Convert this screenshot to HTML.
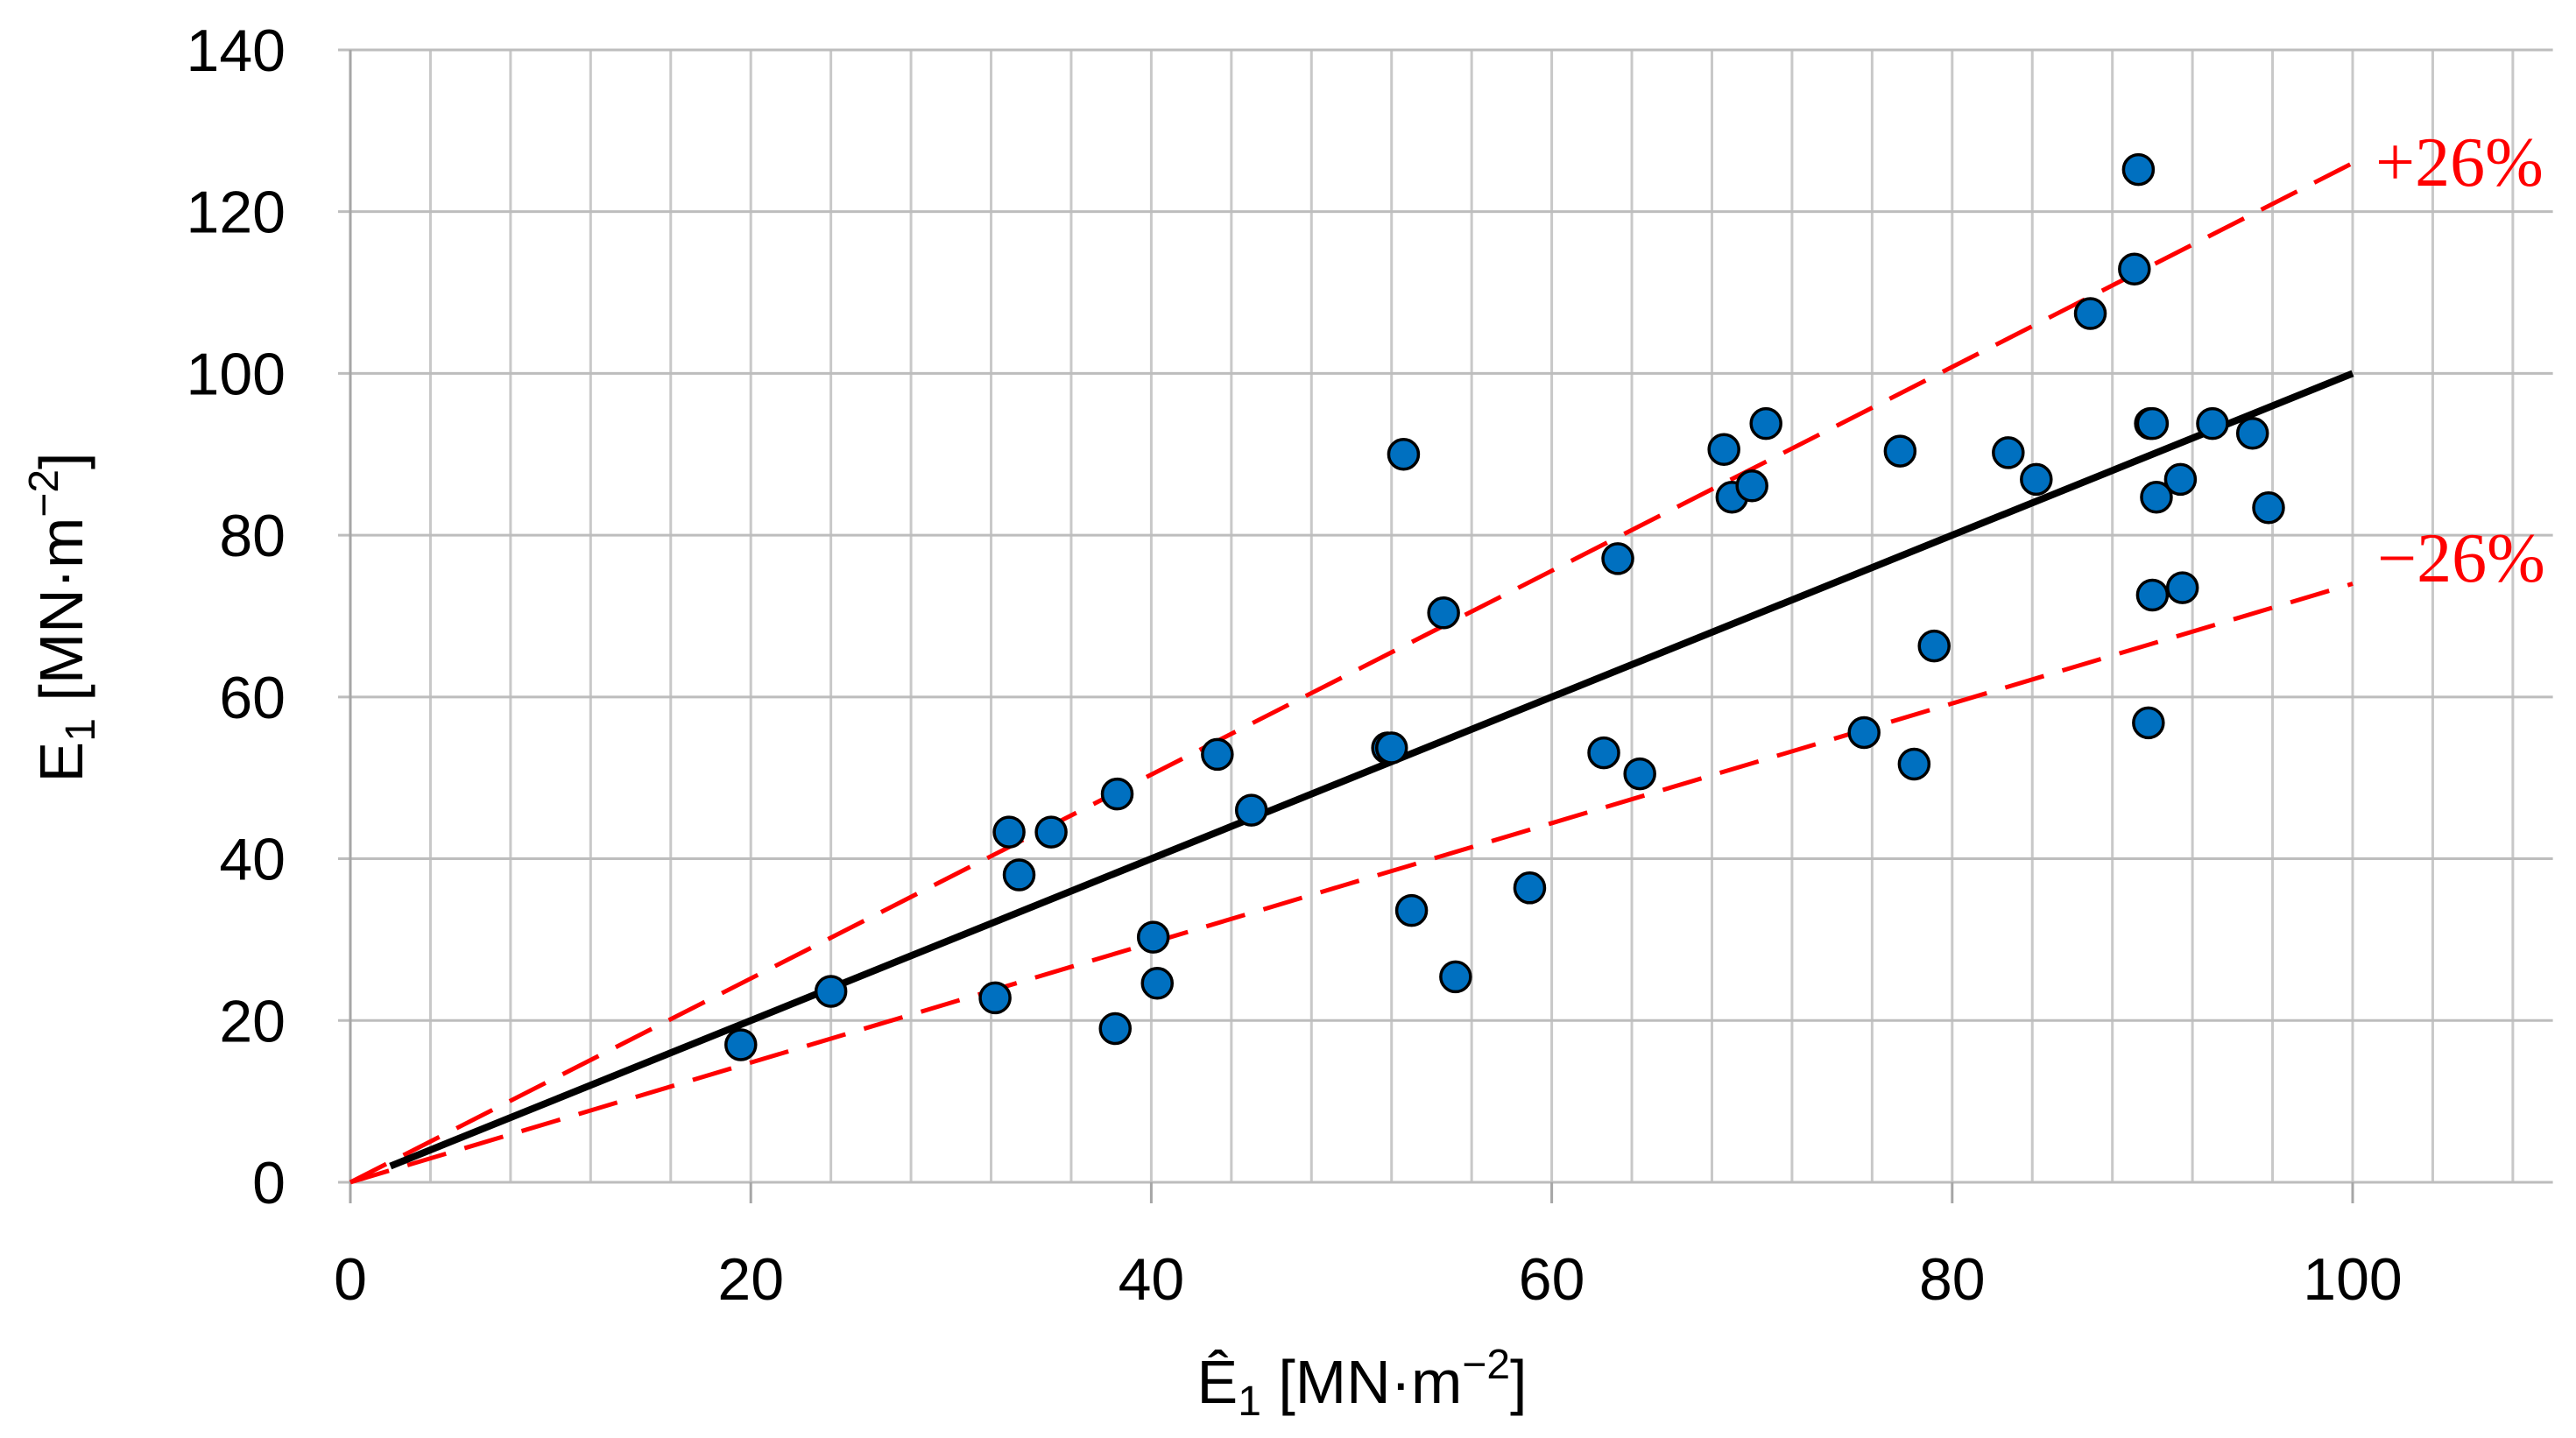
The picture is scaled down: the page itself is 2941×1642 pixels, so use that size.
<!DOCTYPE html>
<html><head><meta charset="utf-8"><style>
html,body{margin:0;padding:0;background:#fff}
svg{display:block}
text{font-family:"Liberation Sans","DejaVu Sans",sans-serif}
text.serif{font-family:"Liberation Serif","DejaVu Serif",serif}
</style></head><body>
<svg id="chart" width="2941" height="1642" viewBox="0 0 2941 1642" xmlns="http://www.w3.org/2000/svg">
<g id="grid"></g>
<g id="axes"></g>
<g id="lines"></g>
<g id="points"></g>
<g id="labels"></g>
</svg>
<script>
const xTicks = [0, 20, 40, 60, 80, 100];
const yTicks = [0, 20, 40, 60, 80, 100, 120, 140];
const xVals = [19.5,24,32.2,32.9,33.4,35,38.2,38.3,40.1,40.3,43.3,45,51.8,52,52.6,53,54.6,55.2,58.9,62.6,63.3,64.4,68.6,69,70,70.7,75.6,77.4,78.1,79.1,82.8,84.2,86.9,89.1,89.3,89.8,89.9,90,90,90.2,91.4,91.5,93,95,95.8];
const yVals = [17,23.6,22.8,43.3,38,43.3,19,48,30.3,24.6,52.9,46,53.7,53.7,90,33.6,70.4,25.4,36.4,53.1,77.1,50.5,90.6,84.7,86.1,93.8,55.6,90.4,51.7,66.3,90.2,86.9,107.4,112.9,125.2,56.8,93.8,93.8,72.6,84.7,86.9,73.5,93.8,92.6,83.4];
const upperFactor = [1.26];
const lowerFactor = [0.74];

const NS = "http://www.w3.org/2000/svg";
const X0 = 400, XU = 22.86, Y0 = 1350, YU = 9.236, XMAX = 110, YMAX = 140;
function sx(v){ return X0 + v * XU; }
function sy(v){ return Y0 - v * YU; }
function mk(tag, attrs, parent){
  const e = document.createElementNS(NS, tag);
  for (const k in attrs) e.setAttribute(k, attrs[k]);
  parent.appendChild(e);
  return e;
}
const grid = document.getElementById('grid');
const axes = document.getElementById('axes');
const lines = document.getElementById('lines');
const pts = document.getElementById('points');
const labels = document.getElementById('labels');

for (let v = 4; v <= XMAX; v += 4) {
  const l = mk('line', {x1: sx(v), x2: sx(v), y1: sy(YMAX), y2: sy(0), stroke: '#c8c8c8', 'stroke-width': 3}, grid);
  
  
}
yTicks.forEach(v => {
  const l = mk('line', {x1: sx(0) - 14, x2: sx(XMAX), y1: sy(v), y2: sy(v), stroke: '#bdbdbd', 'stroke-width': 3}, grid);
  
  
  const t = mk('text', {x: 326, y: sy(v) + 24, 'text-anchor': 'end', 'font-size': 68, fill: '#000'}, labels);
  t.textContent = v;
  
  
});
const ya = mk('line', {x1: sx(0), x2: sx(0), y1: sy(YMAX), y2: sy(0) + 2, stroke: '#a6a6a6', 'stroke-width': 3}, axes);


xTicks.forEach(v => {
  const tk = mk('line', {x1: sx(v), x2: sx(v), y1: sy(0), y2: sy(0) + 24, stroke: '#a6a6a6', 'stroke-width': 3}, axes);
  
  
  const t = mk('text', {x: sx(v), y: 1484, 'text-anchor': 'middle', 'font-size': 68, fill: '#000'}, labels);
  t.textContent = v;
  
  
});

const up = mk('line', {x1: sx(0), y1: sy(0), x2: sx(100), y2: sy(100 * upperFactor[0]), stroke: '#ff0000', 'stroke-width': 5, 'stroke-dasharray': '46 22'}, lines);


const lo = mk('line', {x1: sx(0), y1: sy(0), x2: sx(100), y2: sy(100 * lowerFactor[0]), stroke: '#ff0000', 'stroke-width': 5, 'stroke-dasharray': '46 22'}, lines);


const id = mk('line', {x1: sx(2), y1: sy(2), x2: sx(100), y2: sy(100), stroke: '#000', 'stroke-width': 8}, lines);



xVals.forEach((xv, i) => {
  const c = mk('circle', {cx: sx(xv), cy: sy(yVals[i]), r: 17, fill: '#0070c0', stroke: '#000', 'stroke-width': 3.5}, pts);
  
  
});

const lp = mk('text', {x: 2712, y: 212, 'font-size': 80, fill: '#ff0000', class: 'serif'}, labels);
lp.textContent = '+26%';


const lm = mk('text', {x: 2714, y: 664, 'font-size': 80, fill: '#ff0000', class: 'serif'}, labels);
lm.textContent = '\u221226%';



const xt = mk('text', {x: 1555, y: 1602, 'text-anchor': 'middle', 'font-size': 70, fill: '#000'}, labels);
xt.innerHTML = 'Ê<tspan font-size="48" dy="14">1</tspan><tspan dy="-14"> [MN·m</tspan><tspan font-size="48" dy="-28">−2</tspan><tspan dy="28">]</tspan>';


const yt = mk('text', {x: 0, y: 0, 'text-anchor': 'middle', 'font-size': 70, fill: '#000', transform: 'translate(94,705) rotate(-90)'}, labels);
yt.innerHTML = 'E<tspan font-size="48" dy="14">1</tspan><tspan dy="-14"> [MN·m</tspan><tspan font-size="48" dy="-28">−2</tspan><tspan dy="28">]</tspan>';


</script>
</body></html>
